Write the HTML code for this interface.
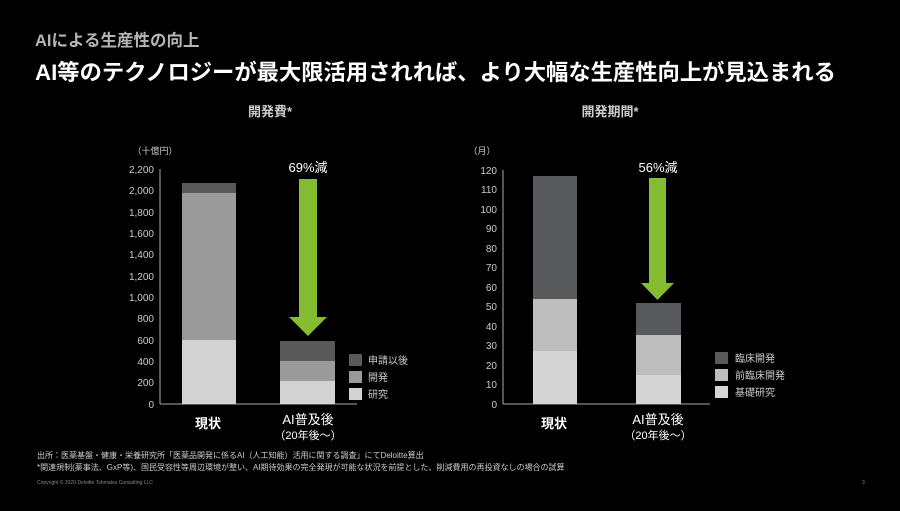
<!DOCTYPE html>
<html><head><meta charset="utf-8"><style>
body{margin:0;background:#000;width:900px;height:506px;overflow:hidden;font-family:"Liberation Sans","Noto Sans CJK JP",sans-serif}
</style></head><body>
<svg width="900" height="506" xmlns="http://www.w3.org/2000/svg" font-family="Liberation Sans, Noto Sans CJK JP, sans-serif">
<text x="35" y="46" fill="#b5b5b5" font-size="16.5" font-weight="bold">AIによる生産性の向上</text>
<text x="35" y="80" fill="#fff" font-size="22.3" font-weight="bold">AI等のテクノロジーが最大限活用されれば、より大幅な生産性向上が見込まれる</text>
<text x="270" y="116" fill="#ccc" font-size="13" font-weight="bold" text-anchor="middle">開発費*</text>
<text x="610" y="116" fill="#ccc" font-size="13" font-weight="bold" text-anchor="middle">開発期間*</text>

<!-- left chart -->
<g font-size="10" fill="#ccc" text-anchor="end">
<text x="155" y="154" text-anchor="middle" font-size="9">（十億円）</text>
<text x="154" y="173">2,200</text><text x="154" y="194">2,000</text><text x="154" y="216">1,800</text><text x="154" y="237">1,600</text><text x="154" y="258">1,400</text><text x="154" y="280">1,200</text><text x="154" y="301">1,000</text><text x="154" y="322">800</text><text x="154" y="344">600</text><text x="154" y="365">400</text><text x="154" y="386">200</text><text x="154" y="408">0</text>
</g>
<line x1="160" y1="169" x2="160" y2="404" stroke="#aaa"/>
<line x1="160" y1="404" x2="357" y2="404" stroke="#aaa"/>
<rect x="182" y="183" width="54" height="10" fill="#58595b"/>
<rect x="182" y="193" width="54" height="147" fill="#9a9a9a"/>
<rect x="182" y="340" width="54" height="64" fill="#d2d2d2"/>
<rect x="280" y="341" width="55" height="20" fill="#58595b"/>
<rect x="280" y="361" width="55" height="20" fill="#9a9a9a"/>
<rect x="280" y="381" width="55" height="23" fill="#d2d2d2"/>
<polygon points="299,179 317,179 317,317 327,317 308,336 289,317 299,317" fill="#84bd2f"/>
<text x="308" y="172" fill="#fff" font-size="13" text-anchor="middle">69%減</text>
<rect x="349" y="354" width="13" height="12" fill="#58595b"/>
<rect x="349" y="371" width="13" height="12" fill="#9a9a9a"/>
<rect x="349" y="388" width="13" height="12" fill="#d2d2d2"/>
<g fill="#ccc" font-size="10"><text x="368" y="364">申請以後</text><text x="368" y="381">開発</text><text x="368" y="398">研究</text></g>
<text x="208" y="428" fill="#fff" font-size="13" font-weight="bold" text-anchor="middle">現状</text>
<text x="308" y="424" fill="#fff" font-size="13" text-anchor="middle">AI普及後</text>
<text x="308" y="439" fill="#fff" font-size="11" text-anchor="middle">（20年後～）</text>

<!-- right chart -->
<g font-size="10" fill="#ccc" text-anchor="end">
<text x="482" y="154" font-size="9" text-anchor="middle">（月）</text>
<text x="497" y="174">120</text><text x="497" y="193">110</text><text x="497" y="213">100</text><text x="497" y="232">90</text><text x="497" y="252">80</text><text x="497" y="271">70</text><text x="497" y="291">60</text><text x="497" y="310">50</text><text x="497" y="330">40</text><text x="497" y="349">30</text><text x="497" y="369">20</text><text x="497" y="388">10</text><text x="497" y="408">0</text>
</g>
<line x1="503" y1="170" x2="503" y2="404" stroke="#aaa"/>
<line x1="503" y1="404" x2="710" y2="404" stroke="#aaa"/>
<rect x="533" y="176" width="44" height="123" fill="#58595b"/>
<rect x="533" y="299" width="44" height="52" fill="#bdbdbd"/>
<rect x="533" y="351" width="44" height="53" fill="#d5d5d5"/>
<rect x="636" y="303" width="45" height="32" fill="#58595b"/>
<rect x="636" y="335" width="45" height="40" fill="#bdbdbd"/>
<rect x="636" y="375" width="45" height="29" fill="#d5d5d5"/>
<polygon points="649,178 666,178 666,283 674,283 657.5,300 641,283 649,283" fill="#84bd2f"/>
<text x="658" y="172" fill="#fff" font-size="13" text-anchor="middle">56%減</text>
<rect x="715" y="352" width="13" height="12" fill="#58595b"/>
<rect x="715" y="369" width="13" height="12" fill="#bdbdbd"/>
<rect x="715" y="386" width="13" height="12" fill="#d5d5d5"/>
<g fill="#ccc" font-size="10"><text x="735" y="362">臨床開発</text><text x="735" y="379">前臨床開発</text><text x="735" y="396">基礎研究</text></g>
<text x="554" y="428" fill="#fff" font-size="13" font-weight="bold" text-anchor="middle">現状</text>
<text x="658" y="424" fill="#fff" font-size="13" text-anchor="middle">AI普及後</text>
<text x="658" y="439" fill="#fff" font-size="11" text-anchor="middle">（20年後～）</text>

<g fill="#ccc" font-size="8">
<text x="37" y="458">出所：医薬基盤・健康・栄養研究所「医薬品開発に係るAI（人工知能）活用に関する調査」にてDeloitte算出</text>
<text x="37" y="470">*関連規制(薬事法、GxP等)、国民受容性等周辺環境が整い、AI期待効果の完全発現が可能な状況を前提とした、削減費用の再投資なしの場合の試算</text>
</g>
<text x="37" y="484" fill="#888" font-size="5">Copyright © 2020 Deloitte Tohmatsu Consulting LLC</text>
<text x="862" y="484" fill="#888" font-size="5">3</text>
</svg>
</body></html>
